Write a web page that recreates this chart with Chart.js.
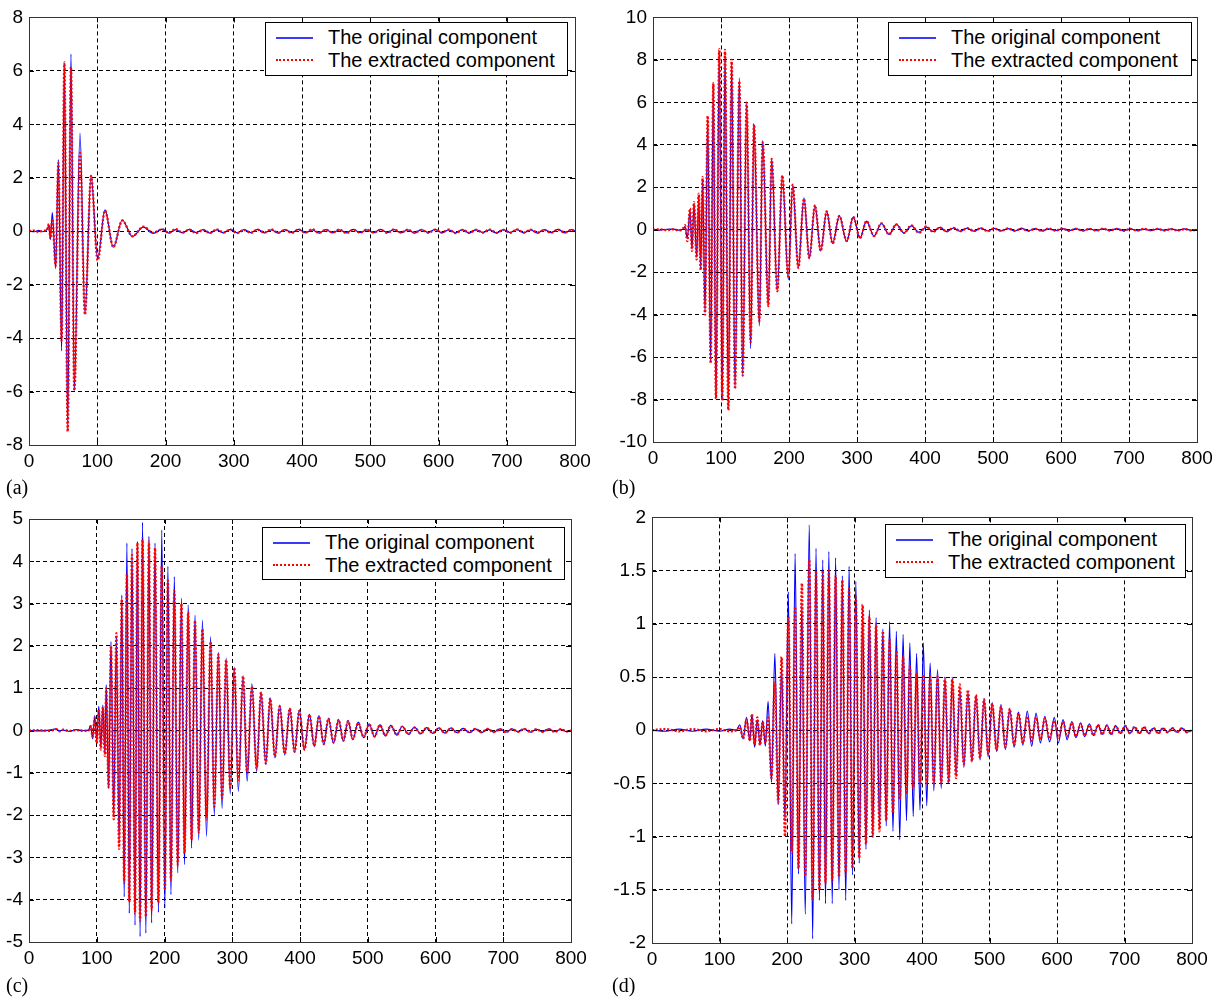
<!DOCTYPE html>
<html>
<head>
<meta charset="utf-8">
<script src="https://cdn.jsdelivr.net/npm/chart.js@4.4.1/dist/chart.umd.min.js"></script>
<style>
  body { margin: 0; background: #fff; width: 1228px; height: 997px; position: relative; overflow: hidden;
         font-family: "Liberation Sans", Arial, Helvetica, sans-serif; }
  canvas { position: absolute; }
  .legend { position: absolute; background: #fff; border: 1px solid #000; box-sizing: border-box; }
  .legend .row { position: absolute; left: 0; height: 23px; line-height: 23px; white-space: nowrap; font-size: 20px; color: #000; }
  .legend .solid { position: absolute; left: 10px; top: 11px; width: 37px; height: 2px; background: #3a3aff; }
  .legend .dotted { position: absolute; left: 10px; top: 10px; width: 37px; border-top: 2px dotted #ff0000; }
  .legend .txt { position: absolute; left: 62px; top: 0; }
  .plabel { position: absolute; font-family: "Liberation Serif", "Times New Roman", serif; font-size: 20px; line-height: 20px; color: #000; }
</style>
</head>
<body>
<canvas id="chartA" width="600" height="480" style="left:0;top:0"></canvas>
<canvas id="chartB" width="614" height="480" style="left:614px;top:0"></canvas>
<canvas id="chartC" width="600" height="480" style="left:0;top:500px"></canvas>
<canvas id="chartD" width="614" height="480" style="left:614px;top:500px"></canvas>
<script>
var seriesNames = ['The original component', 'The extracted component'];
var panelLabels = ['(a)', '(b)', '(c)', '(d)'];

var xTicks = [0, 100, 200, 300, 400, 500, 600, 700, 800];
var yTicksA = [-8, -6, -4, -2, 0, 2, 4, 6, 8];
var yTicksB = [-10, -8, -6, -4, -2, 0, 2, 4, 6, 8, 10];
var yTicksC = [-5, -4, -3, -2, -1, 0, 1, 2, 3, 4, 5];
var yTicksD = [-2, -1.5, -1, -0.5, 0, 0.5, 1, 1.5, 2];

// (a) peaks and troughs
var aX = [0, 8, 14, 20, 25.9, 29.3, 31.3, 34.2, 39.1, 43, 47.8, 51.8, 56.7, 61.5, 66.4, 74.7, 82, 90.9, 100.6, 111.3,
  123.5, 136.7, 151.4, 167.5, 182.1,
  195, 205, 215, 225, 235, 245, 255, 265, 275, 285, 295, 305, 315, 325, 335, 345, 355, 365, 375, 385,
  395, 405, 415, 425, 435, 445, 455, 465, 475, 485, 495, 505, 515, 525, 535, 545, 555, 565, 575, 585,
  595, 605, 615, 625, 635, 645, 655, 665, 675, 685, 695, 705, 715, 725, 735, 745, 755, 765, 775, 785, 795, 800];
var aOrig = [0, -0.02, 0.03, -0.02, 0.05, 0.2, -0.3, 0.7, -1.4, 2.68, -4.48, 6.3, -7.4, 6.63, -5.96, 3.67, -3.12, 2.1, -1.05, 0.8,
  -0.6, 0.42, -0.2, 0.15, -0.08,
  0.08, -0.07, 0.06, -0.06, 0.07, -0.05, 0.06, -0.07, 0.05, -0.06, 0.07, -0.06, 0.06, -0.05, 0.07, -0.06, 0.05, -0.07, 0.06, -0.05,
  0.07, -0.06, 0.05, -0.07, 0.06, -0.06, 0.05, -0.06, 0.07, -0.05, 0.05, -0.06, 0.07, -0.05, 0.06, -0.06, 0.05, -0.07, 0.06, -0.05,
  0.07, -0.06, 0.05, -0.06, 0.06, -0.07, 0.06, -0.05, 0.05, -0.07, 0.06, -0.05, 0.06, -0.06, 0.05, -0.07, 0.06, -0.05, 0.07, -0.06, 0.06, 0];
var aExtr = [0, 0.02, -0.03, 0.02, 0.03, 0.27, -0.28, 0.46, -1.3, 2.56, -4.1, 6.32, -7.5, 6.14, -5.96, 2.93, -3.12, 2.06, -1.09, 0.77,
  -0.59, 0.4, -0.19, 0.17, -0.06,
  0.07, -0.06, 0.08, -0.05, 0.06, -0.07, 0.05, -0.06, 0.07, -0.05, 0.06, -0.07, 0.05, -0.06, 0.06, -0.05, 0.07, -0.06, 0.05, -0.06,
  0.06, -0.05, 0.07, -0.06, 0.05, -0.05, 0.06, -0.07, 0.05, -0.06, 0.06, -0.05, 0.05, -0.06, 0.07, -0.05, 0.06, -0.05, 0.05, -0.06,
  0.06, -0.05, 0.06, -0.07, 0.05, -0.06, 0.05, -0.05, 0.06, -0.06, 0.05, -0.06, 0.07, -0.05, 0.06, -0.05, 0.05, -0.06, 0.06, -0.05, 0.05, 0];

// (b)
var bX = [0, 10, 20, 30, 38, 44, 47, 50.5, 54.4, 57.4, 60.3, 64.2, 67.2, 70.1, 73, 76.5, 80.4, 84.8, 88.7, 92.6,
  97.5, 101.9, 105.9, 110.8, 115.7, 120.6, 127, 131.9, 137.7, 143.6, 148.5, 156.4, 161.3, 169.6, 174.5, 182.8, 190.2, 199, 205.4, 213.7,
  222, 229.9, 238.2, 246.6, 255.4, 264.2, 274, 284.8, 294.6, 304.4, 314, 325, 336, 347, 358, 369, 380, 391, 402,
  412, 422, 432, 442, 452, 462, 472, 482, 492, 502, 512, 522, 532, 542, 552, 562, 572, 582, 592, 602,
  612, 622, 632, 642, 652, 662, 672, 682, 692, 702, 712, 722, 732, 742, 752, 762, 772, 782, 792, 800];
var bOrig = [0, -0.02, 0.02, 0.03, -0.02, 0.02, 0.15, -0.4, 0.9, -0.9, 1.2, -1.3, 1.5, -1.8, 2.4, -3.9, 5.2, -6.2, 6.9, -7.9,
  8.4, -8.0, 8.4, -8.3, 7.9, -7.5, 7.15, -6.9, 6.0, -5.6, 4.97, -4.53, 4.2, -3.6, 3.34, -2.9, 2.55, -2.35, 2.12, -1.8,
  1.5, -1.34, 1.15, -1.0, 0.86, -0.65, 0.65, -0.56, 0.6, -0.4, 0.4, -0.3, 0.3, -0.22, 0.25, -0.15, 0.18, -0.12, 0.12,
  -0.09, 0.11, -0.09, 0.08, -0.08, 0.07, -0.07, 0.07, -0.06, 0.06, -0.06, 0.05, -0.06, 0.06, -0.05, 0.05, -0.06, 0.04, -0.05, 0.05,
  -0.04, 0.05, -0.05, 0.04, -0.05, 0.04, -0.04, 0.05, -0.04, 0.04, -0.05, 0.03, -0.04, 0.04, -0.03, 0.04, -0.03, 0.04, -0.03, 0];
var bExtr = [0, 0.02, -0.02, 0.02, -0.03, 0.05, 0.21, -0.54, 1.0, -1.0, 1.3, -1.4, 1.7, -1.9, 2.48, -4.0, 5.36, -6.3, 6.9, -7.96,
  8.5, -8.04, 8.47, -8.5, 8.0, -7.5, 7.0, -6.87, 5.98, -5.3, 4.97, -4.3, 4.11, -3.6, 3.34, -2.9, 2.55, -2.2, 2.12, -1.8,
  1.46, -1.34, 1.15, -1.0, 0.86, -0.65, 0.65, -0.53, 0.6, -0.4, 0.4, -0.3, 0.3, -0.22, 0.25, -0.15, 0.2, -0.15, 0.15,
  -0.1, 0.1, -0.08, 0.09, -0.07, 0.07, -0.06, 0.06, -0.07, 0.05, -0.05, 0.06, -0.05, 0.05, -0.06, 0.04, -0.05, 0.05, -0.04, 0.05,
  -0.05, 0.04, -0.05, 0.04, -0.04, 0.05, -0.04, 0.04, -0.05, 0.04, -0.04, 0.04, -0.03, 0.04, -0.04, 0.03, -0.04, 0.03, -0.03, 0];

// (c)
var cX = [0, 15, 30, 40, 45, 50, 60, 70, 80, 88, 91, 94, 97, 100, 103, 106, 109, 112, 114, 117.5,
  121, 125, 129, 133, 137, 140.5, 144.5, 148, 152, 156.5, 160, 164, 167.5, 172.5, 177, 181, 186, 191, 196, 200.5,
  205, 209.5, 214.5, 219.5, 225, 229.5, 235, 240, 245, 250.5, 256, 262, 268, 273.5, 279.5, 285, 291, 297, 303, 309,
  316, 322, 329, 336, 342.5, 349.5, 356, 363, 370, 377.5, 385, 392, 399, 406.5, 414, 421, 428, 435, 442, 449.5,
  457, 464, 471, 478, 486, 494, 502, 510, 518, 526, 534, 543, 551, 560, 569, 578, 587, 596, 605, 614,
  623, 632, 641, 650, 659, 668, 677, 686, 695, 704, 713, 722, 731, 740, 749, 758, 767, 776, 785, 794, 800];
var cOrig = [0, -0.01, 0.01, 0.04, -0.01, 0.01, -0.02, 0.02, 0, 0.01, 0.12, -0.2, 0.35, -0.25, 0.57, -0.4, 0.6, -0.55, 1.08, -1.36,
  2.1, -2.0, 2.2, -2.6, 3.2, -3.93, 4.43, -4.32, 4.3, -4.6, 4.47, -4.87, 4.92, -4.79, 4.59, -4.55, 4.43, -4.3, 4.74, -4.2,
  3.88, -3.88, 3.64, -3.37, 3.13, -3.17, 2.97, -2.78, 2.73, -2.59, 2.61, -2.5, 2.22, -2.0, 1.85, -1.84, 1.71, -1.5, 1.5, -1.44,
  1.3, -1.2, 1.1, -0.97, 0.92, -0.8, 0.77, -0.65, 0.6, -0.58, 0.53, -0.52, 0.49, -0.46, 0.38, -0.38, 0.35, -0.34, 0.29, -0.3,
  0.26, -0.25, 0.24, -0.22, 0.2, -0.17, 0.16, -0.15, 0.14, -0.13, 0.12, -0.11, 0.1, -0.09, 0.08, -0.08, 0.07, -0.07, 0.06, -0.06,
  0.06, -0.05, 0.05, -0.05, 0.04, -0.05, 0.04, -0.04, 0.04, -0.04, 0.04, -0.03, 0.04, -0.04, 0.03, -0.03, 0.04, -0.03, 0.03, -0.03, 0];
var cExtr = [0, 0.01, -0.01, 0.03, -0.02, 0.02, -0.01, 0.01, -0.01, 0, 0.1, -0.15, 0.3, -0.3, 0.5, -0.45, 0.55, -0.6, 1.0, -1.35,
  2.0, -2.1, 2.3, -2.8, 3.1, -3.6, 3.7, -4.05, 4.15, -4.32, 4.43, -4.5, 4.55, -4.4, 4.47, -4.24, 4.31, -4.08, 3.88, -3.77,
  3.55, -3.53, 3.3, -3.17, 3.0, -2.9, 2.8, -2.59, 2.6, -2.4, 2.4, -2.1, 2.1, -1.8, 1.8, -1.6, 1.67, -1.35, 1.48, -1.17,
  1.28, -1.0, 1.04, -0.9, 0.9, -0.78, 0.76, -0.62, 0.57, -0.55, 0.52, -0.5, 0.46, -0.45, 0.37, -0.36, 0.33, -0.32, 0.28, -0.28,
  0.25, -0.24, 0.22, -0.2, 0.18, -0.16, 0.15, -0.14, 0.13, -0.12, 0.11, -0.1, 0.09, -0.08, 0.07, -0.07, 0.06, -0.06, 0.05, -0.05,
  0.05, -0.05, 0.04, -0.04, 0.04, -0.04, 0.04, -0.04, 0.03, -0.04, 0.03, -0.03, 0.04, -0.03, 0.03, -0.03, 0.03, -0.03, 0.03, -0.02, 0];

// (d)
var dX = [0, 20, 40, 60, 80, 100, 115, 125, 130, 135, 140, 145, 148, 152, 156, 160, 164, 168, 172,
  177, 182, 187, 192, 197, 202, 207, 212, 217, 222, 227, 233, 238, 243, 248, 253, 257, 262, 267, 272,
  277, 282, 287, 292, 297, 302, 307, 312, 317, 322, 327, 332, 337, 342, 347, 352, 357, 362, 367, 372,
  377, 382, 387, 392, 397, 402, 407, 412, 417.5, 423, 428.5, 434, 439.5, 445, 450.5, 456, 462, 468, 474, 480,
  486, 492, 498, 504, 510.5, 517, 523.5, 530, 536.5, 543, 549.5, 556, 562.5, 569, 575.5, 582, 589, 596, 602, 609,
  615, 622, 628, 635, 641, 648, 654, 661, 667, 674, 680, 687, 694, 701, 708, 715, 722, 729, 736, 743,
  750, 757, 764, 771, 778, 785, 792, 800];
var dOrig = [0, -0.01, 0.01, -0.01, 0.01, -0.01, 0.01, 0, 0.05, -0.08, 0.12, -0.1, 0.15, -0.16, 0.1, -0.14, 0.09, -0.15, 0.27,
  -0.49, 0.72, -0.7, 0.6, -0.85, 1.3, -1.82, 1.66, -1.35, 1.2, -1.73, 1.93, -1.96, 1.71, -1.6, 1.6, -1.63, 1.68, -1.63, 1.62,
  -1.5, 1.45, -1.6, 1.54, -1.36, 1.4, -1.25, 1.13, -1.12, 1.13, -1.0, 1.06, -0.92, 0.95, -0.9, 1.02, -0.95, 0.93, -1.03, 0.9,
  -0.85, 0.82, -0.81, 0.72, -0.75, 0.82, -0.71, 0.63, -0.57, 0.57, -0.55, 0.5, -0.5, 0.49, -0.42, 0.38, -0.35, 0.36, -0.3, 0.33,
  -0.28, 0.3, -0.25, 0.26, -0.2, 0.24, -0.18, 0.2, -0.16, 0.17, -0.14, 0.18, -0.15, 0.16, -0.12, 0.13, -0.11, 0.12, -0.12, 0.1,
  -0.09, 0.08, -0.07, 0.07, -0.06, 0.06, -0.05, 0.05, -0.04, 0.05, -0.04, 0.04, -0.03, 0.04, -0.03, 0.03, -0.03, 0.03, -0.03, 0.02,
  -0.03, 0.02, -0.02, 0.02, -0.02, 0.02, -0.02, 0];
var dExtr = [0, 0.01, -0.01, 0.01, -0.01, 0.01, -0.01, 0, 0.03, -0.08, 0.1, -0.1, 0.15, -0.14, 0.12, -0.14, 0.08, -0.12, 0.12,
  -0.45, 0.45, -0.68, 0.69, -1.0, 1.07, -1.15, 1.16, -1.3, 1.38, -1.37, 1.6, -1.59, 1.5, -1.5, 1.5, -1.44, 1.5, -1.42, 1.45,
  -1.38, 1.41, -1.35, 1.33, -1.3, 1.25, -1.2, 1.18, -1.07, 1.07, -1.0, 1.0, -0.95, 0.93, -0.85, 0.85, -0.78, 0.75, -0.65, 0.69,
  -0.6, 0.6, -0.55, 0.54, -0.5, 0.52, -0.5, 0.5, -0.5, 0.5, -0.5, 0.49, -0.49, 0.49, -0.45, 0.43, -0.32, 0.38, -0.29, 0.33,
  -0.26, 0.29, -0.22, 0.25, -0.19, 0.22, -0.16, 0.2, -0.14, 0.16, -0.12, 0.13, -0.1, 0.12, -0.09, 0.11, -0.08, 0.09, -0.07, 0.08,
  -0.06, 0.07, -0.06, 0.06, -0.05, 0.05, -0.05, 0.05, -0.04, 0.04, -0.04, 0.04, -0.03, 0.04, -0.03, 0.03, -0.03, 0.03, -0.03, 0.02,
  -0.03, 0.02, -0.02, 0.02, -0.02, 0.02, -0.02, 0];

// solid frame + inward tick marks, matlab style
var boxPlugin = {
  id: 'box',
  afterDraw: function (chart) {
    var a = chart.chartArea, ctx = chart.ctx;
    var xs = chart.scales.x, ys = chart.scales.y;
    ctx.save();
    ctx.setLineDash([]);
    ctx.strokeStyle = '#000';
    ctx.lineWidth = 1;
    ctx.beginPath();
    xs.ticks.forEach(function (t) {
      var p = Math.round(xs.getPixelForValue(t.value)) + 0.5;
      ctx.moveTo(p, a.top); ctx.lineTo(p, a.top + 5);
      ctx.moveTo(p, a.bottom); ctx.lineTo(p, a.bottom - 5);
    });
    ys.ticks.forEach(function (t) {
      var p = Math.round(ys.getPixelForValue(t.value)) + 0.5;
      ctx.moveTo(a.left, p); ctx.lineTo(a.left + 5, p);
      ctx.moveTo(a.right, p); ctx.lineTo(a.right - 5, p);
    });
    ctx.stroke();
    ctx.strokeStyle = '#333';
    ctx.strokeRect(Math.round(a.left) + 0.5, Math.round(a.top) + 0.5, Math.round(a.right - a.left), Math.round(a.bottom - a.top));
    ctx.restore();
  }
};

function drawPanel(canvasId, xs, orig, extr, yTicks, box) {
  var canvas = document.getElementById(canvasId);
  var ctx = canvas.getContext('2d');
  var tickFont = { family: '"Liberation Sans", Arial, Helvetica, sans-serif', size: 19 };
  var asTicks = function (list) { return list.map(function (v) { return { value: v }; }); };
  return new Chart(ctx, {
    type: 'line',
    data: {
      datasets: [{
        label: seriesNames[1],
        data: xs.map(function (x, i) { return { x: x, y: extr[i] }; }),
        borderColor: '#ff0000',
        borderWidth: 2.3,
        borderDash: [2, 1.8],
        pointRadius: 0,
        cubicInterpolationMode: 'monotone',
        order: 1
      }, {
        label: seriesNames[0],
        data: xs.map(function (x, i) { return { x: x, y: orig[i] }; }),
        borderColor: '#0000ff',
        borderWidth: 1.2,
        pointRadius: 0,
        cubicInterpolationMode: 'monotone',
        order: 2
      }]
    },
    options: {
      responsive: false,
      animation: false,
      layout: { padding: { left: 0, top: box.top, right: box.right, bottom: 0 } },
      scales: {
        x: {
          type: 'linear', min: 0, max: 800,
          afterBuildTicks: function (s) { s.ticks = asTicks(xTicks); },
          afterFit: function (s) { s.height = box.xh; },
          ticks: { font: tickFont, color: '#000', padding: 5, maxRotation: 0, autoSkip: false,
                   callback: function (v) { return String(v); } },
          grid: { color: '#000', lineWidth: 1, drawTicks: false },
          border: { display: false, dash: [4, 3] }
        },
        y: {
          type: 'linear', min: yTicks[0], max: yTicks[yTicks.length - 1],
          afterBuildTicks: function (s) { s.ticks = asTicks(yTicks); },
          afterFit: function (s) { s.width = box.yw; },
          ticks: { font: tickFont, color: '#000', padding: 6, autoSkip: false,
                   callback: function (v) { return String(v); } },
          grid: { color: '#000', lineWidth: 1, drawTicks: false },
          border: { display: false, dash: [4, 3] }
        }
      },
      plugins: { legend: { display: false }, tooltip: { enabled: false } }
    },
    plugins: [boxPlugin]
  });
}

function makeLegend(left, top, width, height) {
  var div = document.createElement('div');
  div.className = 'legend';
  div.style.left = left + 'px';
  div.style.top = top + 'px';
  div.style.width = width + 'px';
  div.style.height = height + 'px';
  var marks = ['solid', 'dotted'];
  seriesNames.forEach(function (name, i) {
    var row = document.createElement('div');
    row.className = 'row';
    row.style.top = (3 + i * 23) + 'px';
    row.innerHTML = '<span class="' + marks[i] + '"></span><span class="txt"></span>';
    row.querySelector('.txt').textContent = name;
    div.appendChild(row);
  });
  document.body.appendChild(div);
}

function makeLabel(text, left, top) {
  var d = document.createElement('div');
  d.className = 'plabel';
  d.style.left = left + 'px';
  d.style.top = top + 'px';
  d.textContent = text;
  document.body.appendChild(d);
}

drawPanel('chartA', aX, aOrig, aExtr, yTicksA, { top: 13, right: 25, yw: 29, xh: 35 });
drawPanel('chartB', bX, bOrig, bExtr, yTicksB, { top: 14, right: 31, yw: 39, xh: 38 });
drawPanel('chartC', cX, cOrig, cExtr, yTicksC, { top: 19, right: 29, yw: 29, xh: 38 });
drawPanel('chartD', dX, dOrig, dExtr, yTicksD, { top: 16, right: 36, yw: 38, xh: 37 });

makeLegend(265, 22, 303, 54);
makeLegend(888, 22, 304, 54);
makeLegend(262, 527, 303, 53);
makeLegend(885, 524, 301, 54);

makeLabel(panelLabels[0], 6, 477);
makeLabel(panelLabels[1], 612, 477);
makeLabel(panelLabels[2], 6, 975);
makeLabel(panelLabels[3], 612, 975);
</script>
</body>
</html>
